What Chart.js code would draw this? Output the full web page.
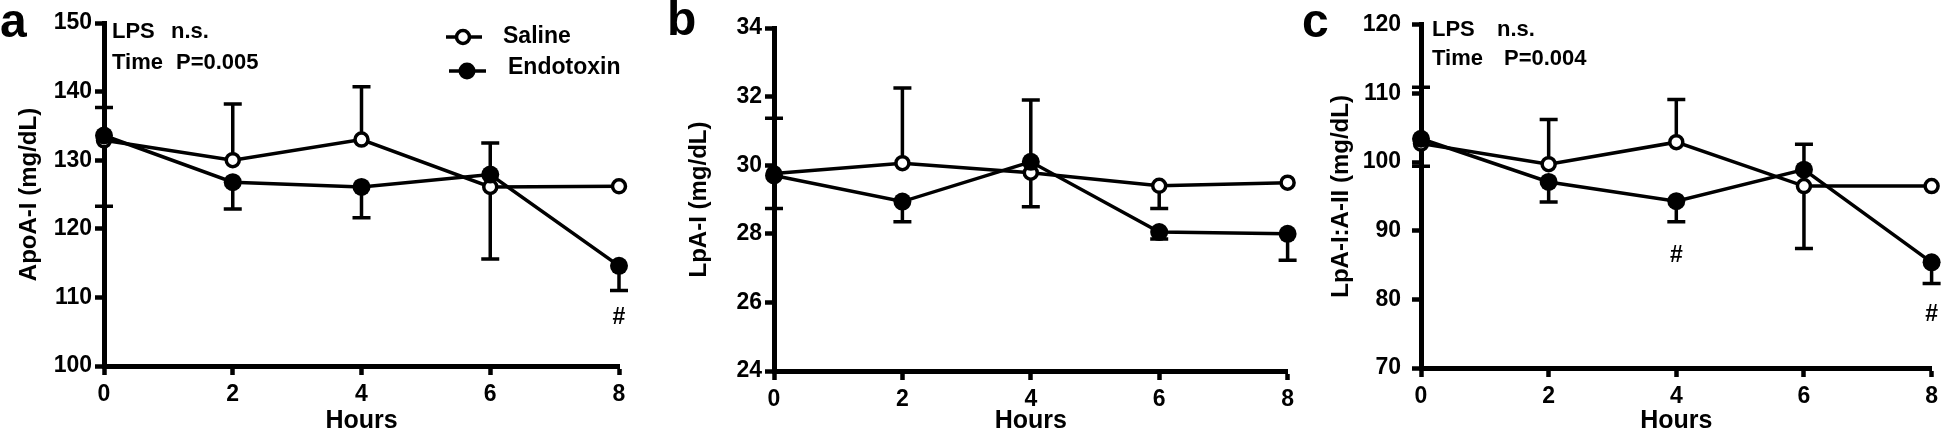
<!DOCTYPE html>
<html>
<head>
<meta charset="utf-8">
<script src="https://cdn.jsdelivr.net/npm/chart.js@4.4.1/dist/chart.umd.min.js"></script>
<style>
  html, body { margin: 0; padding: 0; background: #fff; }
  #wrap { position: relative; width: 1944px; height: 439px; overflow: hidden; }
  canvas { position: absolute; top: 0; }
</style>
</head>
<body>
<div id="wrap">
  <canvas id="panelA" width="650" height="439" style="left:0;width:650px;height:439px"></canvas>
  <canvas id="panelB" width="650" height="439" style="left:650px;width:650px;height:439px"></canvas>
  <canvas id="panelC" width="644" height="439" style="left:1300px;width:644px;height:439px"></canvas>
</div>
<script>
const FONT = "'Liberation Sans', Arial, Helvetica, sans-serif"
Chart.defaults.font.family = FONT
Chart.defaults.color = '#000'

const hours = [0, 2, 4, 6, 8]
const seriesNames = ['Saline', 'Endotoxin']

// a – ApoA-I (mg/dL)
const apoTicks = [100, 110, 120, 130, 140, 150]
const apoSaline = [132.9, 130.0, 133.0, 126.1, 126.2]
const apoEndo = [133.6, 126.8, 126.1, 127.9, 114.6]
const apoSalineErr = [123.3, 138.2, 140.7, 115.6, null]   // one-sided SEM bar end
const apoEndoErr = [137.7, 122.9, 121.6, 132.5, 111.0]
const apoHash = [[8, 107]]
const apoStats = [['LPS', 'n.s.'], ['Time', 'P=0.005']]

// b – LpA-I (mg/dL)
const lpaTicks = [24, 26, 28, 30, 32, 34]
const lpaSaline = [29.76, 30.06, 29.78, 29.4, 29.49]
const lpaEndo = [29.7, 28.94, 30.1, 28.05, 28.0]
const lpaSalineErr = [31.37, 32.25, 28.79, 28.74, null]
const lpaEndoErr = [28.74, 28.35, 31.9, 27.85, 27.23]

// c – LpA-I:A-II (mg/dL)
const ratioTicks = [70, 80, 90, 100, 110, 120]
const ratioSaline = [102.7, 99.7, 102.9, 96.5, 96.5]
const ratioEndo = [103.4, 97.1, 94.3, 98.9, 85.4]
const ratioSalineErr = [99.4, 106.2, 109.1, 87.4, null]
const ratioEndoErr = [110.9, 94.2, 91.3, 102.6, 82.3]
const ratioHash = [[4, 86.3], [8, 77.7]]
const ratioStats = [['LPS', 'n.s.'], ['Time', 'P=0.004']]

const pts = vals => hours.map((h, i) => ({ x: h, y: vals[i] }))

// error bars, panel letter, stats text, # marks and the legend
const decor = {
  id: 'decor',
  beforeDatasetsDraw(chart, args, o) {
    const { ctx, scales: { x, y } } = chart
    ctx.save()
    ctx.strokeStyle = '#000'
    ctx.lineWidth = 3.5
    o.errors.forEach(([means, ends]) => {
      ends.forEach((end, i) => {
        if (end == null) return
        const px = x.getPixelForValue(hours[i])
        const y0 = y.getPixelForValue(means[i])
        const y1 = y.getPixelForValue(end)
        ctx.beginPath()
        ctx.moveTo(px, y0); ctx.lineTo(px, y1)
        ctx.moveTo(px - 9, y1); ctx.lineTo(px + 9, y1)
        ctx.stroke()
      })
    })
    ctx.restore()
  },
  afterDraw(chart, args, o) {
    const { ctx, scales: { x, y } } = chart
    ctx.save()
    ctx.fillStyle = '#000'
    ctx.font = `bold 48px ${FONT}`
    ctx.textBaseline = 'alphabetic'
    ctx.fillText(o.letter[0], o.letter[1], o.letter[2])

    ctx.font = `bold 22px ${FONT}`
    ctx.textBaseline = 'middle'
    ;(o.stats || []).forEach((row, i) => {
      const p = o.statsPos[i]
      ctx.fillText(row[0], p[0], p[2])
      ctx.fillText(row[1], p[1], p[2])
    })

    ctx.textAlign = 'center'
    ctx.font = `bold 23px ${FONT}`
    ;(o.hashes || []).forEach(([hx, hy]) => {
      ctx.fillText('#', x.getPixelForValue(hx), y.getPixelForValue(hy))
    })

    if (o.legend) {
      ctx.textAlign = 'left'
      ctx.font = `bold 23px ${FONT}`
      ctx.lineWidth = 3.5
      ctx.strokeStyle = '#000'
      const rows = [[446, 482, 463, 37, 503, false], [449, 486, 467, 71, 508, true]]
      rows.forEach(([x0, x1, cx, cy, tx, filled], i) => {
        ctx.beginPath(); ctx.moveTo(x0, cy); ctx.lineTo(x1, cy); ctx.stroke()
        ctx.beginPath()
        ctx.arc(cx, cy, filled ? 8.5 : 6.5, 0, Math.PI * 2)
        if (filled) { ctx.fill() } else { ctx.fillStyle = '#fff'; ctx.fill(); ctx.stroke(); ctx.fillStyle = '#000' }
        ctx.fillText(seriesNames[i], tx, cy - (filled ? 3 : 0))
      })
    }
    ctx.restore()
  }
}

function makePanel(id, p) {
  const axisGrid = { display: true, drawOnChartArea: false, drawTicks: true, tickLength: 9, tickWidth: 4.5, tickColor: '#000' }
  const axisBorder = { display: true, color: '#000', width: 5 }
  return new Chart(document.getElementById(id), {
    type: 'line',
    data: {
      datasets: [
        {
          label: seriesNames[0], data: pts(p.saline), order: 2, clip: false,
          borderColor: '#000', borderWidth: 3.5, tension: 0,
          pointRadius: 6.5, pointBorderWidth: 3.5, pointBorderColor: '#000', pointBackgroundColor: '#fff'
        },
        {
          label: seriesNames[1], data: pts(p.endo), order: 1, clip: false,
          borderColor: '#000', borderWidth: 3.5, tension: 0,
          pointRadius: 9, pointBorderWidth: 0, pointBorderColor: '#000', pointBackgroundColor: '#000'
        }
      ]
    },
    options: {
      responsive: false,
      animation: false,
      layout: { padding: p.pad },
      plugins: {
        legend: { display: false },
        tooltip: { enabled: false },
        decor: {
          errors: [[p.saline, p.salineErr], [p.endo, p.endoErr]],
          letter: p.letter, stats: p.stats, statsPos: p.statsPos,
          hashes: p.hashes, legend: p.legend
        }
      },
      scales: {
        x: {
          type: 'linear', min: 0, max: 8,
          afterBuildTicks: s => { s.ticks = hours.map(v => ({ value: v })) },
          afterFit: s => { s.height = p.xh },
          grid: axisGrid, border: axisBorder,
          ticks: { color: '#000', font: { size: 23, weight: 'bold' }, padding: 6, maxRotation: 0, autoSkip: false },
          title: { display: true, text: 'Hours', color: '#000', font: { size: 25, weight: 'bold' }, padding: { top: 2, bottom: 3 } }
        },
        y: {
          min: p.ticks[0], max: p.ticks[p.ticks.length - 1],
          afterBuildTicks: s => { s.ticks = p.ticks.map(v => ({ value: v })) },
          afterFit: s => { s.width = p.yw },
          grid: axisGrid, border: axisBorder,
          ticks: { color: '#000', font: { size: 23, weight: 'bold' }, padding: p.tickPad },
          title: { display: true, text: p.title, color: '#000', font: { size: 24, weight: 'bold' }, padding: { top: 3, bottom: 3 } }
        }
      }
    },
    plugins: [decor]
  })
}

makePanel('panelA', {
  saline: apoSaline, endo: apoEndo, salineErr: apoSalineErr, endoErr: apoEndoErr,
  ticks: apoTicks, title: 'ApoA-I (mg/dL)',
  pad: { left: 12, right: 31, top: 23, bottom: 0 }, yw: 92, xh: 73, tickPad: 3,
  letter: ['a', 0, 37], stats: apoStats, statsPos: [[112, 171, 32], [112, 176, 63]],
  hashes: apoHash, legend: true
})

makePanel('panelB', {
  saline: lpaSaline, endo: lpaEndo, salineErr: lpaSalineErr, endoErr: lpaEndoErr,
  ticks: lpaTicks, title: 'LpA-I (mg/dL)',
  pad: { left: 32, right: 10, top: 28, bottom: 0 }, yw: 92, xh: 68, tickPad: 3,
  letter: ['b', 17, 35]
})

makePanel('panelC', {
  saline: ratioSaline, endo: ratioEndo, salineErr: ratioSalineErr, endoErr: ratioEndoErr,
  ticks: ratioTicks, title: 'LpA-I:A-II (mg/dL)',
  pad: { left: 24, right: 9, top: 24, bottom: 0 }, yw: 97, xh: 71, tickPad: 11,
  letter: ['c', 2, 37], stats: ratioStats, statsPos: [[132, 197, 30], [132, 204, 59]],
  hashes: ratioHash
})
</script>
</body>
</html>
